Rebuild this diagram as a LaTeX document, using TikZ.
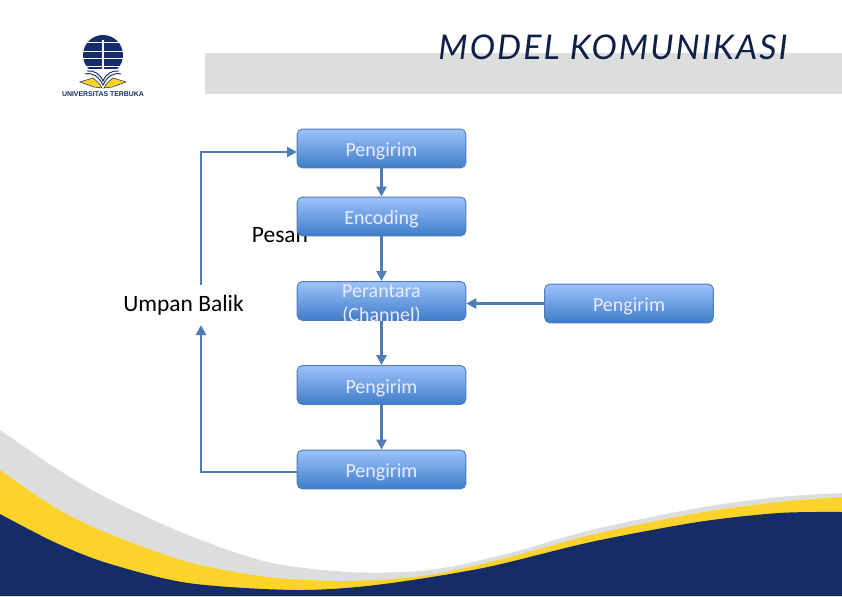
\documentclass[tikz,border=0pt]{standalone}
\usepackage{fontspec}
\setmainfont{Carlito}
\newfontfamily\titlefont[LetterSpace=6]{Lato}
\newfontfamily\logofont{Liberation Sans}
\usetikzlibrary{arrows.meta}
\definecolor{utnavy}{HTML}{152C66}
\definecolor{utyellow}{HTML}{FCD32A}
\definecolor{utgrey}{HTML}{DCDDDD}
\definecolor{boxtop}{HTML}{9DC3FB}
\definecolor{boxbottom}{HTML}{3F7CC8}
\definecolor{boxedge}{HTML}{4F7DB5}
\definecolor{linecol}{HTML}{4F7DB5}
\tikzset{
    flowbox/.style={rectangle,rounded corners=4pt,draw=boxedge,line width=0.7pt,top color=boxtop,bottom color=boxbottom,
        minimum width=126.5pt,minimum height=29.2pt,inner sep=0pt,text height=12.2pt,text depth=0pt,text=white!92!blue,font=\fontsize{15}{18}\selectfont},
    flowline/.style={draw=linecol,line width=2pt,-{Triangle[length=7.5pt,width=7.5pt]}},
    plainlabel/.style={inner sep=0pt,text=black,font=\fontsize{17.6}{20}\selectfont}
}
\begin{document}
\begin{tikzpicture}[x=0.75pt,y=-0.75pt]
                \useasboundingbox (0,0) rectangle (842,596);
                \fill[white] (0,0) rectangle (842,596);
                % header band and title
                \fill[utgrey] (205,53) rectangle (842,94);
                \node[inner sep=0pt,text=utnavy!70!black,font=\titlefont\itshape\fontsize{25.5}{28}\selectfont] (title) at (613,47) {MODEL KOMUNIKASI};
                % logo
                \begin{scope}
                    \clip (83,35) rectangle (124,73);
                    \fill[utnavy] (103,55) circle (20);
                    \foreach \y in {42.5,51.5,58.5,66.5}
                        \draw[white,line width=0.9pt] (80,\y) -- (126,\y);
                \end{scope}
                \draw[white,line width=1.2pt] (103,40) -- (103,88);
                \fill[white] (103,88) -- (84,69) -- (122,69) -- cycle;
                \draw[utnavy,line width=0.7pt] (85,74) .. controls (93,72) and (99,77) .. (103,85) .. controls (107,77) and (113,72) .. (121,74);
                \draw[utnavy,line width=0.7pt] (87,71) .. controls (94,70) and (100,74) .. (103,81) .. controls (106,74) and (112,70) .. (119,71);
                \fill[utyellow,draw=utnavy,line width=0.4pt] (80,82) -- (93,78) .. controls (97,81) and (100,84) .. (102,88) -- (94,87) -- cycle;
                \fill[utyellow,draw=utnavy,line width=0.4pt] (126,82) -- (113,78) .. controls (109,81) and (106,84) .. (104,88) -- (112,87) -- cycle;
                \node[inner sep=0pt,text=utnavy,font=\logofont\bfseries\fontsize{5.2}{6}\selectfont] (logotext) at (103,94.5) {UNIVERSITAS TERBUKA};
                % bottom waves
                \fill[utgrey] plot[smooth] coordinates {(0,430) (54,467) (107,498) (188,535) (268,562) (349,572) (430,570) (510,553) (591,530) (698,508) (779,497) (842,493)} -- (842,596) -- (0,596) -- cycle;
                \fill[utyellow] plot[smooth] coordinates {(0,470) (54,507) (107,533) (188,562) (268,577) (349,581) (430,575) (510,557) (591,535) (698,513) (779,502) (842,497)} -- (842,596) -- (0,596) -- cycle;
                \fill[utnavy] plot[smooth] coordinates {(0,514) (54,542) (107,563) (188,583) (295,590) (376,585) (483,568) (591,542) (698,522) (779,513) (842,512)} -- (842,596) -- (0,596) -- cycle;
                % diagram
                \node[plainlabel] (pesan) at (280,235) {Pesan};
                \node[plainlabel] (umpan) at (183.5,305) {Umpan Balik};
                \node[flowbox] (pengirim) at (381.5,148.5) {Pengirim};
                \node[flowbox] (encoding) at (381.5,216.5) {Encoding};
                \node[flowbox] (perantara) at (381.5,301) {\smash{\begin{tabular}{@{}c@{}}Perantara\\(Channel)\end{tabular}}};
                \node[flowbox] (tengah) at (381.5,385) {Pengirim};
                \node[flowbox] (bawah) at (381.5,469.5) {Pengirim};
                \node[flowbox] (gangguan) at (629,303.5) {Pengirim};
                \coordinate (umpanbawah) at (201,325);
                \coordinate (umpanatas) at (201,285);
                \coordinate (masuk) at (297,152);
                \coordinate (keluar) at (297,472);
                \foreach \from/\to in {pengirim/encoding,encoding/perantara,perantara/tengah,tengah/bawah}
                    \draw[flowline] (\from) -- (\to);
                \draw[flowline] (gangguan.west) -- (gangguan.west -| perantara.east);
                \draw[flowline] (keluar) -| (umpanbawah);
                \draw[flowline] (umpanatas) |- (masuk);
            \end{tikzpicture}
\end{document}
